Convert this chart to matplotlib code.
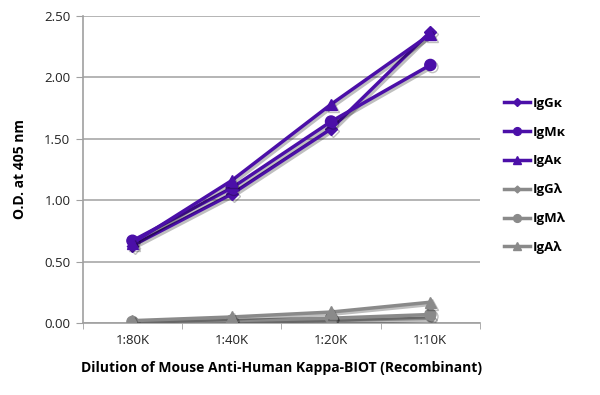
import matplotlib
matplotlib.use("Agg")
import matplotlib.pyplot as plt
import matplotlib.patheffects as pe
from matplotlib.ticker import FixedLocator

categories = ["1:80K", "1:40K", "1:20K", "1:10K"]
series_names = ["IgGκ", "IgMκ", "IgAκ", "IgGλ", "IgMλ", "IgAλ"]
igg_k = [0.63, 1.05, 1.58, 2.37]
igm_k = [0.67, 1.10, 1.64, 2.10]
iga_k = [0.65, 1.16, 1.78, 2.35]
igg_l = [0.01, 0.01, 0.02, 0.04]
igm_l = [0.01, 0.02, 0.04, 0.07]
iga_l = [0.02, 0.05, 0.09, 0.17]
yticks = [0.0, 0.5, 1.0, 1.5, 2.0, 2.5]

purple = "#4B0FA8"
gray = "#8A8A8A"
plt.rcParams['font.family'] = ['Open Sans', 'DejaVu Sans']

fig = plt.figure(figsize=(6, 3.95), dpi=100)
ax = fig.add_axes([0.138, 0.182, 0.662, 0.778])

x = list(range(len(categories)))
data = [igg_k, igm_k, iga_k, igg_l, igm_l, iga_l]
colors = [purple] * 3 + [gray] * 3
markers = ["D", "o", "^", "D", "o", "^"]
msizes = [6, 8, 8, 5, 8, 8]
shadow = [pe.SimpleLineShadow(offset=(1.5, -1.5), alpha=0.25), pe.Normal()]
lines = []
for vals, c, m, ms, name in zip(data, colors, markers, msizes, series_names):
    ln, = ax.plot(x, vals, color=c, marker=m, markersize=ms, linewidth=2.5,
                  label=name, path_effects=shadow, zorder=3)
    lines.append(ln)

ax.set_xlim(-0.5, 3.5)
ax.set_ylim(0, 2.5)
ax.set_yticks(yticks)
ax.set_yticklabels([f"{v:.2f}" for v in yticks], fontsize=9.5, color="#222222")
ax.set_xticks(x)
ax.set_xticklabels(categories, fontsize=9.5, color="#222222")
ax.tick_params(axis='x', which='major', length=0, pad=8)
ax.xaxis.set_minor_locator(FixedLocator([-0.5, 0.5, 1.5, 2.5, 3.5]))
ax.tick_params(axis='x', which='minor', length=4, color="#A0A0A0", direction='out')
ax.tick_params(axis='y', length=5, color="#A0A0A0", direction='out', pad=4)
ax.grid(axis='y', color="#A8A8A8", linewidth=1.2, zorder=0)
for s in ['top', 'right']:
    ax.spines[s].set_visible(False)
for s in ['left', 'bottom']:
    ax.spines[s].set_color("#A0A0A0")
    ax.spines[s].set_linewidth(1.2)

ax.set_ylabel("O.D. at 405 nm", fontsize=10, fontweight='bold', labelpad=12)
ax.set_xlabel("Dilution of Mouse Anti-Human Kappa-BIOT (Recombinant)",
              fontsize=10, fontweight='bold', labelpad=10)

handles = []
for c, m, ms, name in zip(colors, markers, msizes, series_names):
    h, = ax.plot([], [], color=c, marker=m, markersize=ms * 0.7, linewidth=2.5, label=name)
    handles.append(h)
leg = fig.legend(handles=handles, loc='upper left', bbox_to_anchor=(0.82, 0.785),
                 frameon=False, fontsize=9.5, handlelength=2.0, labelspacing=1.2,
                 handletextpad=0.2)
for t in leg.get_texts():
    t.set_fontweight('bold')

fig.savefig("out.png", dpi=100)
